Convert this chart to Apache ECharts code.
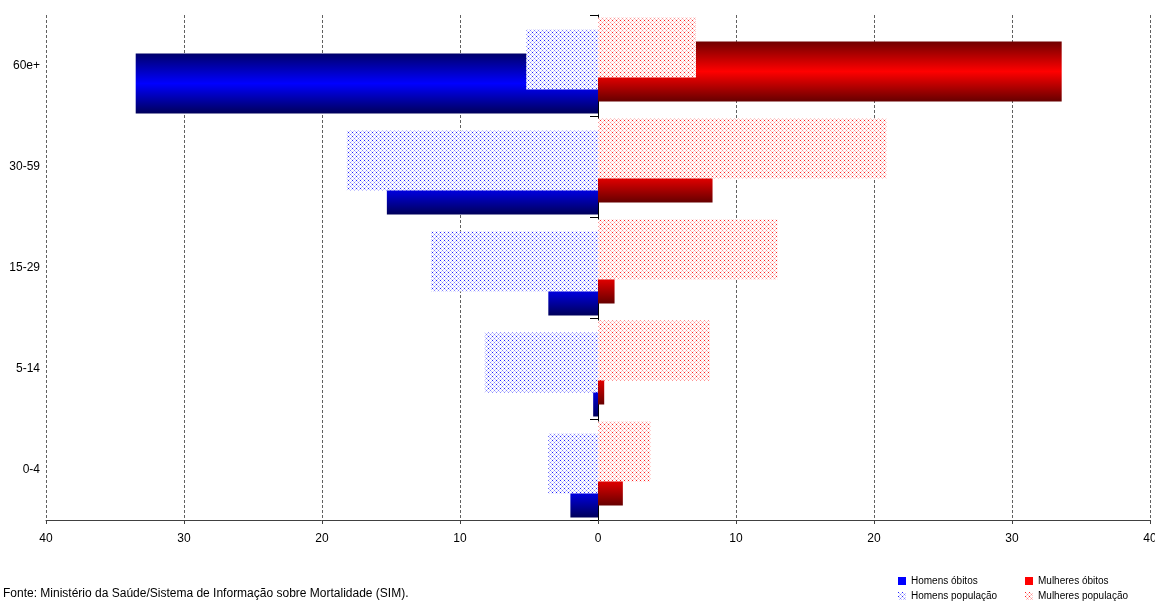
<!DOCTYPE html>
<html>
<head>
<meta charset="utf-8">
<script src="https://cdn.jsdelivr.net/npm/echarts@6/dist/echarts.min.js"></script>
<style>
html,body{margin:0;padding:0;background:#fff;}
#c{width:1155px;height:601px;}
</style>
</head>
<body>
<div id="c"></div>
<script>
var categories = ['0-4', '5-14', '15-29', '30-59', '60e+'];
var homensObitos = [2.0, 0.35, 3.6, 15.3, 33.5];
var homensPop = [3.6, 8.2, 12.1, 18.2, 5.2];
var mulheresObitos = [1.8, 0.45, 1.2, 8.3, 33.6];
var mulheresPop = [3.8, 8.1, 13.0, 20.9, 7.1];
var fonte = 'Fonte: Ministério da Saúde/Sistema de Informação sobre Mortalidade (SIM).';

function makePattern(dark, mid, light) {
  var cv = document.createElement('canvas');
  cv.width = 4; cv.height = 4;
  var ctx = cv.getContext('2d');
  ctx.fillStyle = '#ffffff';
  ctx.fillRect(0, 0, 4, 4);
  ctx.fillStyle = light;
  ctx.fillRect(1, 1, 1, 1); ctx.fillRect(3, 3, 1, 1); ctx.fillRect(1, 3, 1, 1); ctx.fillRect(3, 1, 1, 1);
  ctx.fillStyle = mid;
  ctx.fillRect(2, 2, 1, 1);
  ctx.fillStyle = dark;
  ctx.fillRect(0, 0, 1, 1);
  return { image: cv, repeat: 'repeat' };
}
var bluePat = makePattern('#2020ff', '#8080ff', '#c8c8ff');
var redPat = makePattern('#ff2020', '#ff9090', '#ffc8c8');

function grad(dark, bright, dark2) {
  return new echarts.graphic.LinearGradient(0, 0, 0, 1, [
    { offset: 0, color: dark },
    { offset: 0.5, color: bright },
    { offset: 1, color: dark2 }
  ]);
}

var chart = echarts.init(document.getElementById('c'), null, { renderer: 'canvas' });
var font = 'Liberation Sans, Arial, sans-serif';
var hiddenX = { type: 'value', min: -40, max: 40, interval: 10, show: false };
var hiddenY = { type: 'category', data: categories, show: false };
var gridBase = { left: 46, right: 5, containLabel: false, outerBoundsMode: 'none' };

function legendItem(left, top, item) {
  return {
    left: left, top: top, orient: 'horizontal', itemWidth: 8, itemHeight: 8, padding: 0,
    icon: 'rect', textStyle: { fontSize: 10, color: '#000', fontFamily: font },
    selectedMode: false, data: [item]
  };
}

chart.setOption({
  animation: false,
  backgroundColor: '#ffffff',
  textStyle: { fontFamily: font },
  grid: [
    Object.assign({ top: 15, bottom: 81 }, gridBase),
    Object.assign({ top: 21, bottom: 75 }, gridBase),
    Object.assign({ top: 9, bottom: 87 }, gridBase)
  ],
  xAxis: [
    {
      type: 'value', gridIndex: 0, min: -40, max: 40, interval: 10,
      axisLine: { show: true, onZero: false, lineStyle: { color: '#404040', width: 1 } },
      axisTick: { show: true, length: 4, lineStyle: { color: '#404040' } },
      axisLabel: { color: '#000', fontSize: 12, fontFamily: font, margin: 13,
        formatter: function (v) { return String(Math.abs(v)); } },
      splitLine: { show: true, showMinLine: true, showMaxLine: true,
        lineStyle: { color: '#606060', type: [3, 2], width: 1 } }
    },
    Object.assign({ gridIndex: 1 }, hiddenX),
    Object.assign({ gridIndex: 2 }, hiddenX)
  ],
  yAxis: [
    {
      type: 'category', gridIndex: 0, data: categories,
      axisLine: { show: true, onZero: true, lineStyle: { color: '#000', width: 1 } },
      axisTick: { show: true, length: 8, lineStyle: { color: '#000' } },
      axisLabel: { color: '#000', fontSize: 12, fontFamily: font, margin: 6 },
      splitLine: { show: false }
    },
    Object.assign({ gridIndex: 1 }, hiddenY),
    Object.assign({ gridIndex: 2 }, hiddenY)
  ],
  legend: [
    legendItem(898, 576, { name: 'Homens óbitos', itemStyle: { color: '#0000ff' } }),
    legendItem(898, 591, { name: 'Homens população' }),
    legendItem(1025, 576, { name: 'Mulheres óbitos', itemStyle: { color: '#ff0000' } }),
    legendItem(1025, 591, { name: 'Mulheres população' })
  ],
  graphic: [
    { type: 'text', left: 3, top: 588,
      style: { text: fonte, fontSize: 12, fontFamily: font, fill: '#000' } }
  ],
  series: [
    {
      name: 'Homens população', type: 'bar', xAxisIndex: 1, yAxisIndex: 1, z: 3,
      data: homensPop.map(function (v) { return -v; }),
      barWidth: 60, barGap: '-60%',
      itemStyle: { color: bluePat }
    },
    {
      name: 'Homens óbitos', type: 'bar', xAxisIndex: 1, yAxisIndex: 1, z: 2,
      data: homensObitos.map(function (v) { return -v; }),
      barWidth: 60, barGap: '-60%',
      itemStyle: { color: grad('#00006a', '#0000ff', '#00005a') }
    },
    {
      name: 'Mulheres população', type: 'bar', xAxisIndex: 2, yAxisIndex: 2, z: 3,
      data: mulheresPop,
      barWidth: 60, barGap: '-60%',
      itemStyle: { color: redPat }
    },
    {
      name: 'Mulheres óbitos', type: 'bar', xAxisIndex: 2, yAxisIndex: 2, z: 2,
      data: mulheresObitos,
      barWidth: 60, barGap: '-60%',
      itemStyle: { color: grad('#700000', '#ff0000', '#660000') }
    }
  ]
});
</script>
</body>
</html>
